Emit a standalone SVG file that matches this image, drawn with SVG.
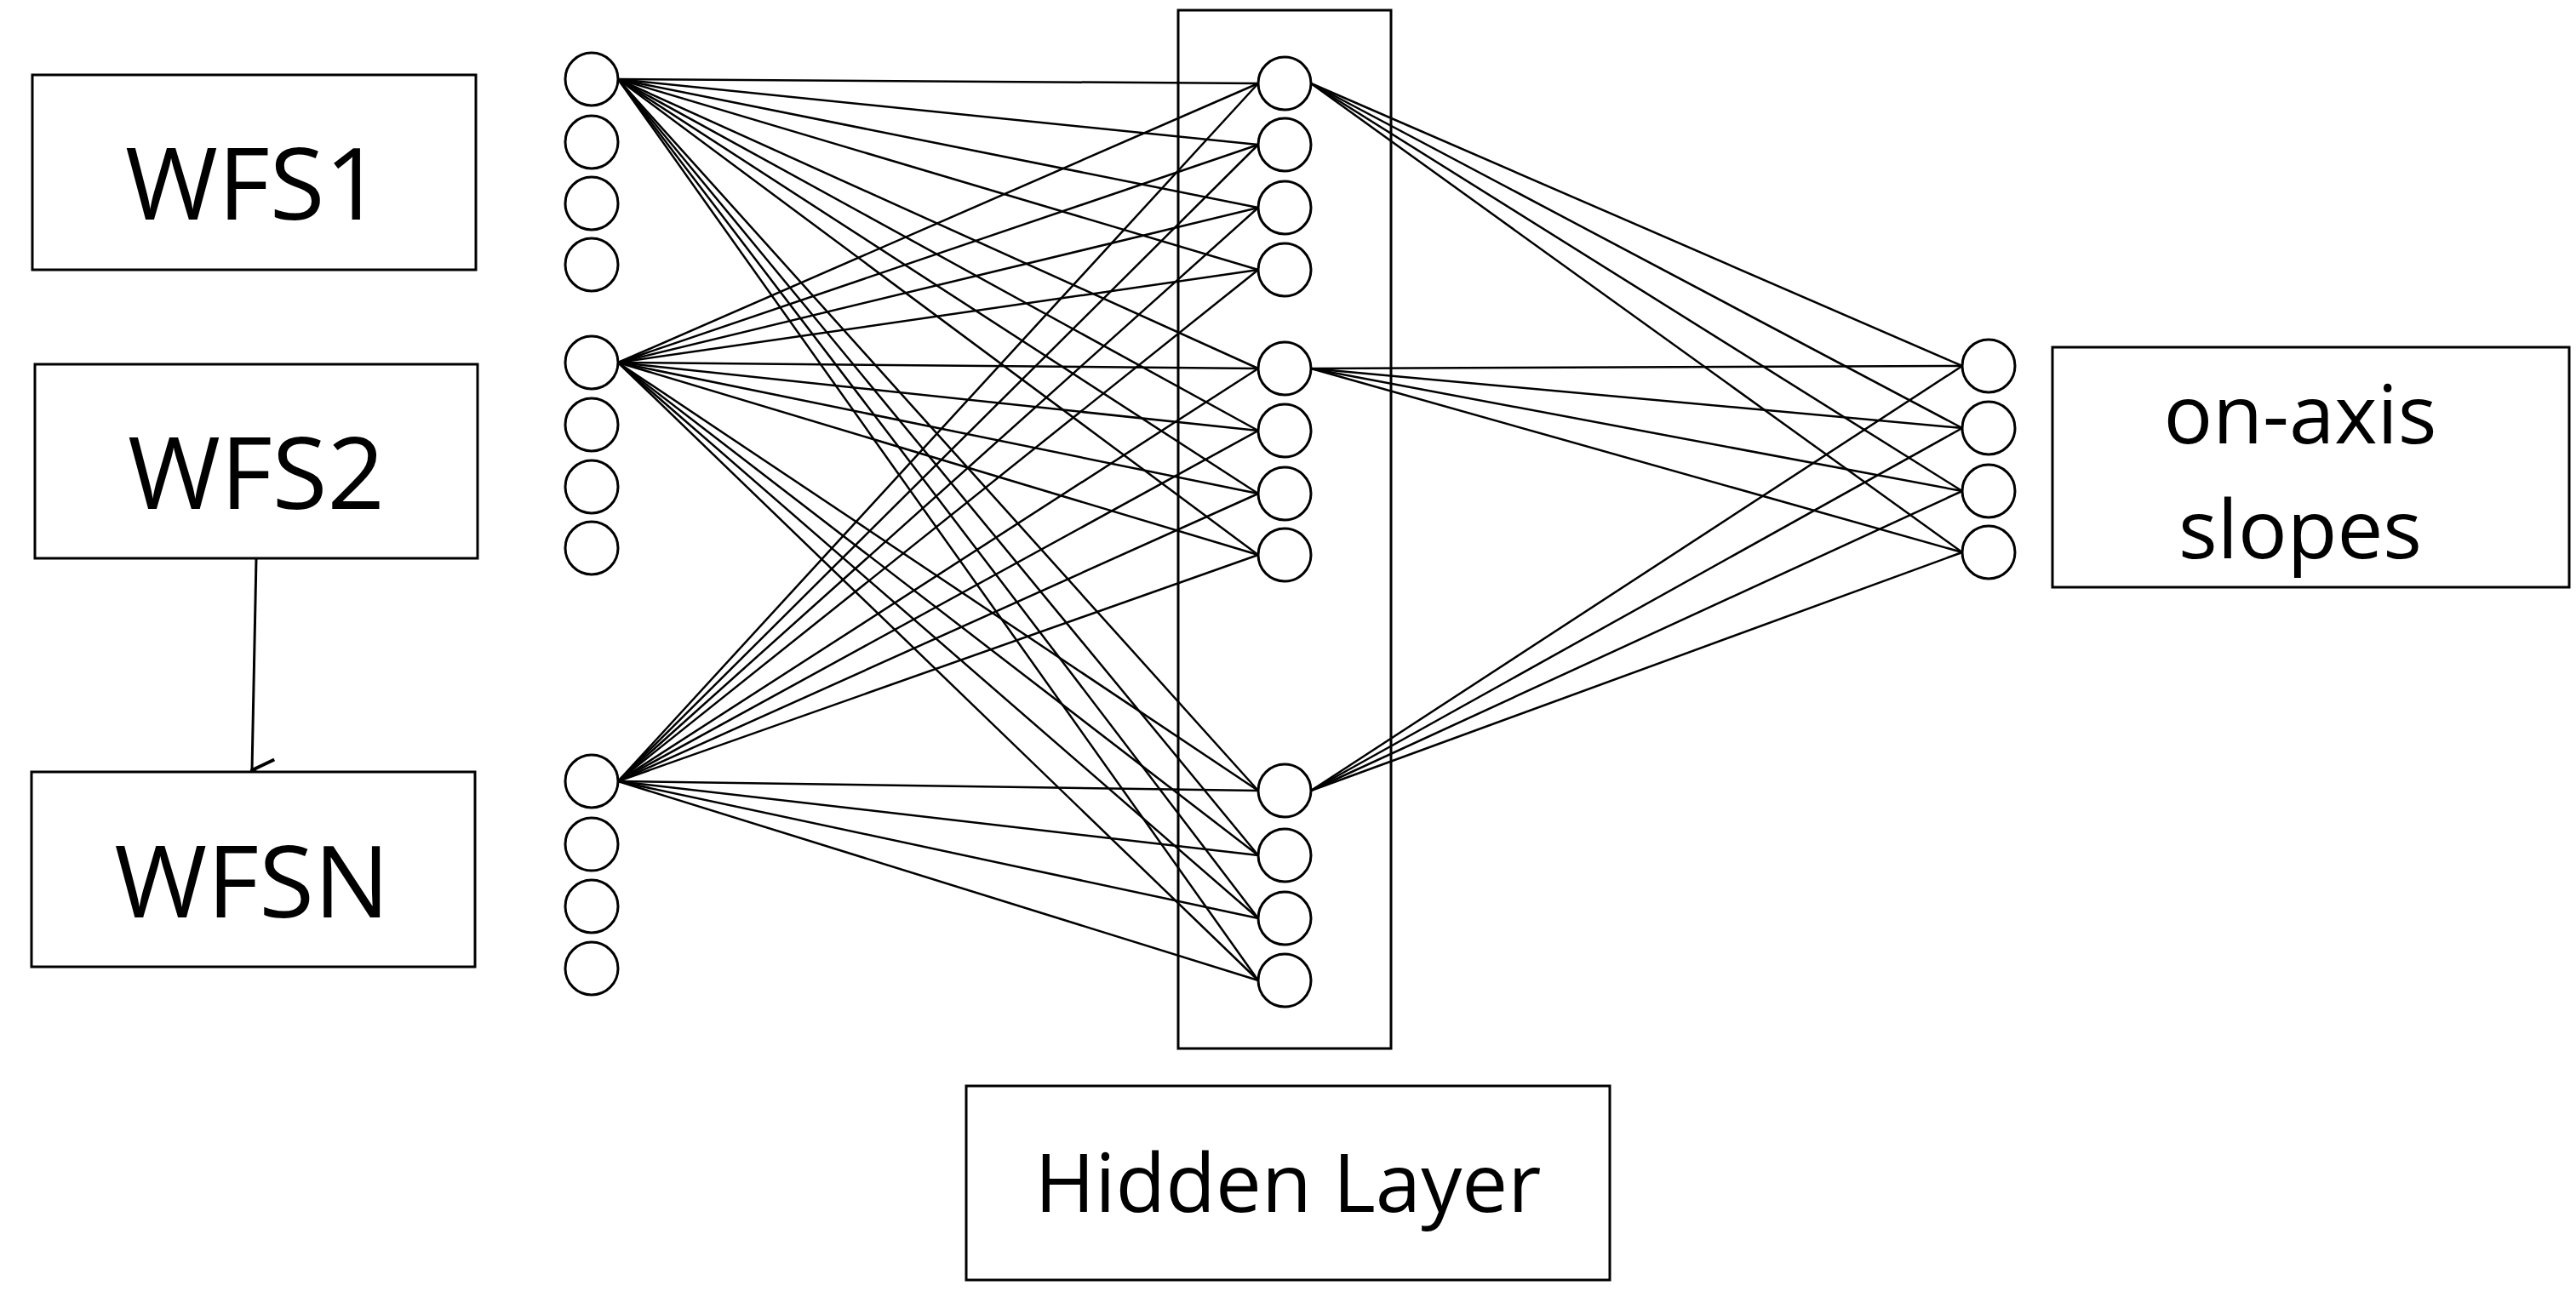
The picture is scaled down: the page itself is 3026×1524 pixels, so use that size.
<svg xmlns="http://www.w3.org/2000/svg" width="3026" height="1524" viewBox="0 0 3026 1524">
<style>
.box{fill:#fff;stroke:#000;stroke-width:3}
.n{fill:#fff;stroke:#000;stroke-width:3}
.c line{stroke:#000;stroke-width:2.5}
text{font-family:"Open Sans","Liberation Sans",sans-serif;fill:#000;text-anchor:middle}
.big{font-size:118px}
.mid{font-size:96px}
</style>
<defs><marker id="ah" markerWidth="30" markerHeight="30" refX="15" refY="28" orient="auto" markerUnits="userSpaceOnUse" viewBox="0 0 30 30"><path d="M2 2 L15 28 L28 2" fill="none" stroke="#000" stroke-width="4"/></marker></defs>
<rect class="box" x="1384" y="12" width="250" height="1220" fill="none" style="fill:none"/>
<g class="c" id="connectors">
<line x1="726" y1="93" x2="1478" y2="98"/><line x1="726" y1="93" x2="1478" y2="170"/><line x1="726" y1="93" x2="1478" y2="244"/><line x1="726" y1="93" x2="1478" y2="317"/>
<line x1="726" y1="93" x2="1478" y2="433"/><line x1="726" y1="93" x2="1478" y2="506"/><line x1="726" y1="93" x2="1478" y2="580"/><line x1="726" y1="93" x2="1478" y2="652"/>
<line x1="726" y1="93" x2="1478" y2="929"/><line x1="726" y1="93" x2="1478" y2="1005"/><line x1="726" y1="93" x2="1478" y2="1079"/><line x1="726" y1="93" x2="1478" y2="1152"/>
<line x1="726" y1="426" x2="1478" y2="98"/><line x1="726" y1="426" x2="1478" y2="170"/><line x1="726" y1="426" x2="1478" y2="244"/><line x1="726" y1="426" x2="1478" y2="317"/>
<line x1="726" y1="426" x2="1478" y2="433"/><line x1="726" y1="426" x2="1478" y2="506"/><line x1="726" y1="426" x2="1478" y2="580"/><line x1="726" y1="426" x2="1478" y2="652"/>
<line x1="726" y1="426" x2="1478" y2="929"/><line x1="726" y1="426" x2="1478" y2="1005"/><line x1="726" y1="426" x2="1478" y2="1079"/><line x1="726" y1="426" x2="1478" y2="1152"/>
<line x1="726" y1="918" x2="1478" y2="98"/><line x1="726" y1="918" x2="1478" y2="170"/><line x1="726" y1="918" x2="1478" y2="244"/><line x1="726" y1="918" x2="1478" y2="317"/>
<line x1="726" y1="918" x2="1478" y2="433"/><line x1="726" y1="918" x2="1478" y2="506"/><line x1="726" y1="918" x2="1478" y2="580"/><line x1="726" y1="918" x2="1478" y2="652"/>
<line x1="726" y1="918" x2="1478" y2="929"/><line x1="726" y1="918" x2="1478" y2="1005"/><line x1="726" y1="918" x2="1478" y2="1079"/><line x1="726" y1="918" x2="1478" y2="1152"/>
<line x1="1540" y1="98" x2="2305" y2="430"/><line x1="1540" y1="98" x2="2305" y2="503"/><line x1="1540" y1="98" x2="2305" y2="577"/><line x1="1540" y1="98" x2="2305" y2="649"/>
<line x1="1540" y1="433" x2="2305" y2="430"/><line x1="1540" y1="433" x2="2305" y2="503"/><line x1="1540" y1="433" x2="2305" y2="577"/><line x1="1540" y1="433" x2="2305" y2="649"/>
<line x1="1540" y1="929" x2="2305" y2="430"/><line x1="1540" y1="929" x2="2305" y2="503"/><line x1="1540" y1="929" x2="2305" y2="577"/><line x1="1540" y1="929" x2="2305" y2="649"/>
<line x1="301" y1="656" x2="296" y2="905" style="stroke-width:3" marker-end="url(#ah)"/>
</g>
<g id="wfs1"><rect class="box" x="38" y="88" width="521" height="229"/><text class="big" x="298" y="258">WFS1</text></g>
<g id="wfs2"><rect class="box" x="41" y="428" width="520" height="228"/><text class="big" x="301" y="598">WFS2</text></g>
<g id="wfsn"><rect class="box" x="37" y="907" width="521" height="229"/><text class="big" x="296" y="1078">WFSN</text></g>
<g id="inputs">
<circle class="n" cx="695" cy="93" r="31"/><circle class="n" cx="695" cy="167" r="31"/><circle class="n" cx="695" cy="239" r="31"/><circle class="n" cx="695" cy="311" r="31"/>
<circle class="n" cx="695" cy="426" r="31"/><circle class="n" cx="695" cy="499" r="31"/><circle class="n" cx="695" cy="572" r="31"/><circle class="n" cx="695" cy="644" r="31"/>
<circle class="n" cx="695" cy="918" r="31"/><circle class="n" cx="695" cy="992" r="31"/><circle class="n" cx="695" cy="1065" r="31"/><circle class="n" cx="695" cy="1138" r="31"/>
</g>
<g id="hidden">
<circle class="n" cx="1509" cy="98" r="31"/><circle class="n" cx="1509" cy="170" r="31"/><circle class="n" cx="1509" cy="244" r="31"/><circle class="n" cx="1509" cy="317" r="31"/>
<circle class="n" cx="1509" cy="433" r="31"/><circle class="n" cx="1509" cy="506" r="31"/><circle class="n" cx="1509" cy="580" r="31"/><circle class="n" cx="1509" cy="652" r="31"/>
<circle class="n" cx="1509" cy="929" r="31"/><circle class="n" cx="1509" cy="1005" r="31"/><circle class="n" cx="1509" cy="1079" r="31"/><circle class="n" cx="1509" cy="1152" r="31"/>
</g>
<g id="outputs">
<circle class="n" cx="2336" cy="430" r="31"/><circle class="n" cx="2336" cy="503" r="31"/><circle class="n" cx="2336" cy="577" r="31"/><circle class="n" cx="2336" cy="649" r="31"/>
</g>
<g id="onaxis"><rect class="box" x="2411" y="408" width="607" height="282"/><text class="mid" x="2702" y="521">on-axis</text><text class="mid" x="2702" y="656">slopes</text></g>
<g id="hiddenlabel"><rect class="box" x="1135" y="1276" width="756" height="228"/><text class="mid" x="1513" y="1424">Hidden Layer</text></g>
</svg>
